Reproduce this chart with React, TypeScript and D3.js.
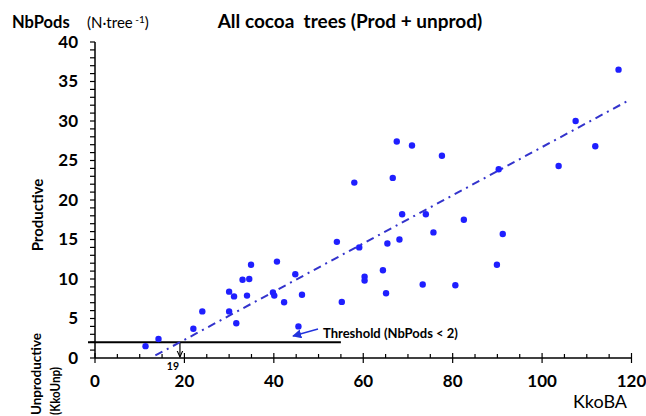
import React from 'react';
import * as d3 from 'd3';

const xTicks = [0, 20, 40, 60, 80, 100, 120];
const yTicks = [0, 5, 10, 15, 20, 25, 30, 35, 40];
const kkoBA = [117.1, 107.5, 111.9, 67.5, 70.9, 77.6, 66.6, 103.7, 90.3, 68.7, 74.0, 82.5, 75.7, 91.2, 65.4, 68.1, 64.4, 89.9, 73.3, 80.6, 65.1, 58.0, 54.1, 59.1, 34.9, 40.7, 33.0, 34.5, 44.8, 30.0, 31.1, 34.0, 39.8, 40.1, 46.3, 42.3, 60.3, 60.3, 55.2, 24.0, 30.0, 31.6, 45.5, 22.0, 14.2, 11.3];
const nbPods = [36.5, 30.0, 26.8, 27.4, 26.9, 25.6, 22.8, 24.3, 23.9, 18.2, 18.2, 17.5, 15.9, 15.7, 14.5, 15.0, 11.1, 11.8, 9.3, 9.2, 8.2, 22.2, 14.7, 14.0, 11.8, 12.2, 9.9, 10.0, 10.6, 8.4, 7.8, 7.9, 8.3, 7.9, 8.0, 7.05, 10.3, 9.8, 7.1, 5.9, 5.9, 4.4, 4.0, 3.7, 2.4, 1.5];
const trendSlope = 0.305;
const trendIntercept = -3.8;
const trendRange = [13.5, 119.6];
const threshold = 2;
const thresholdX = 19;
const thresholdEnd = 55;

const FONT = 'Lato, "Open Sans", sans-serif';

export default function App() {
  const W = 646, H = 416;
  const x = d3.scaleLinear().domain([0, 120]).range([95, 631.5]);
  const y = d3.scaleLinear().domain([0, 40]).range([358, 42]);
  const minorX = d3.range(0, 121, 5);
  const minorY = d3.range(0, 41, 1);
  const trend = d3.line<number>().x(d => x(d)).y(d => y(trendSlope * d + trendIntercept));
  const pts = kkoBA.map((v, i) => [v, nbPods[i]]);

  return (
    <svg width={W} height={H} style={{ position: 'absolute', left: 0, top: 0, background: '#fff' }}>
      <defs>
        <marker id="blueHead" viewBox="0 0 10 10" refX="9" refY="5" markerWidth="7" markerHeight="7" orient="auto">
          <path d="M0,0 L10,5 L0,10 z" fill="#2233dd" />
        </marker>
        <marker id="blackHead" viewBox="0 0 10 10" refX="9" refY="5" markerWidth="6" markerHeight="6" orient="auto">
          <path d="M0,1 L9,5 L0,9" fill="none" stroke="#000" strokeWidth={1.5} />
        </marker>
      </defs>
      <rect width={W} height={H} fill="#fff" />

      {/* Title and y unit */}
      <text x={12} y={28} fontFamily={FONT} fontWeight="bold" fontSize={16.5} fill="#000">NbPods</text>
      <text x={87} y={28} fontFamily={FONT} fontSize={15} fill="#000">(N·tree<tspan dy={-5} fontSize={10}> -1</tspan><tspan dy={5}>)</tspan></text>
      <text x={350} y={28} textAnchor="middle" fontFamily={FONT} fontWeight="bold" fontSize={19} fill="#000" style={{ whiteSpace: 'pre' }}>All cocoa  trees (Prod + unprod)</text>

      {/* Axes */}
      <line x1={x(0)} x2={x(0)} y1={y(0)} y2={y(40)} stroke="#000" strokeWidth={1.5} />
      <line x1={x(0)} x2={x(120)} y1={y(0)} y2={y(0)} stroke="#000" strokeWidth={1.5} />
      {minorY.map(t => (
        <line key={'my' + t} x1={x(0) - 5} x2={x(0)} y1={y(t)} y2={y(t)} stroke="#000" strokeWidth={1.2} />
      ))}
      {minorX.map(t => (
        xTicks.includes(t)
          ? <line key={'mx' + t} x1={x(t)} x2={x(t)} y1={y(0) - 5} y2={y(0) + 5} stroke="#000" strokeWidth={1.2} />
          : <line key={'mx' + t} x1={x(t)} x2={x(t)} y1={y(0) - 4} y2={y(0)} stroke="#000" strokeWidth={1.2} />
      ))}
      {yTicks.map(t => (
        <text key={'yl' + t} x={78} y={y(t)} dy="0.35em" textAnchor="end" fontFamily={FONT} fontWeight="bold" fontSize={17} fill="#000">{t}</text>
      ))}
      {xTicks.map(t => (
        <text key={'xl' + t} x={x(t)} y={387} textAnchor="middle" fontFamily={FONT} fontWeight="bold" fontSize={17} fill="#000">{t}</text>
      ))}

      {/* Axis titles */}
      <text x={600} y={408} textAnchor="middle" fontFamily={FONT} fontSize={18} fill="#000">KkoBA</text>
      <text transform={`translate(43,215) rotate(-90)`} textAnchor="middle" fontFamily={FONT} fontWeight="bold" fontSize={15} fill="#000">Productive</text>
      <text transform={`translate(41,415) rotate(-90)`} textAnchor="start" fontFamily={FONT} fontWeight="bold" fontSize={13.5} textLength={82} lengthAdjust="spacingAndGlyphs" fill="#000">Unproductive</text>
      <text transform={`translate(60,415) rotate(-90)`} textAnchor="start" fontFamily={FONT} fontWeight="bold" fontSize={13.5} textLength={48} lengthAdjust="spacingAndGlyphs" fill="#000">(KkoUnp)</text>

      {/* Threshold */}
      <line x1={x(0) - 7} x2={x(thresholdEnd)} y1={y(threshold)} y2={y(threshold)} stroke="#000" strokeWidth={2} />
      <line x1={x(thresholdX)} x2={x(thresholdX)} y1={y(threshold)} y2={y(0) - 1} stroke="#000" strokeWidth={1.2} markerEnd="url(#blackHead)" />
      <text x={x(thresholdX) - 7} y={370} textAnchor="middle" fontFamily={FONT} fontWeight="bold" fontSize={10.5} fill="#000">19</text>
      <line x1={318} y1={329} x2={293} y2={336} stroke="#2233dd" strokeWidth={1.3} markerEnd="url(#blueHead)" />
      <text x={323} y={338} fontFamily={FONT} fontWeight="bold" fontSize={13} fill="#000">Threshold (NbPods &lt; 2)</text>

      {/* Trend line */}
      <path d={trend(trendRange) || ''} fill="none" stroke="#3333cc" strokeWidth={2} strokeDasharray="8,5,2,5" />

      {/* Points */}
      {pts.map((p, i) => (
        <circle key={i} cx={x(p[0])} cy={y(p[1])} r={3.2} fill="#1f1fff" />
      ))}
    </svg>
  );
}
